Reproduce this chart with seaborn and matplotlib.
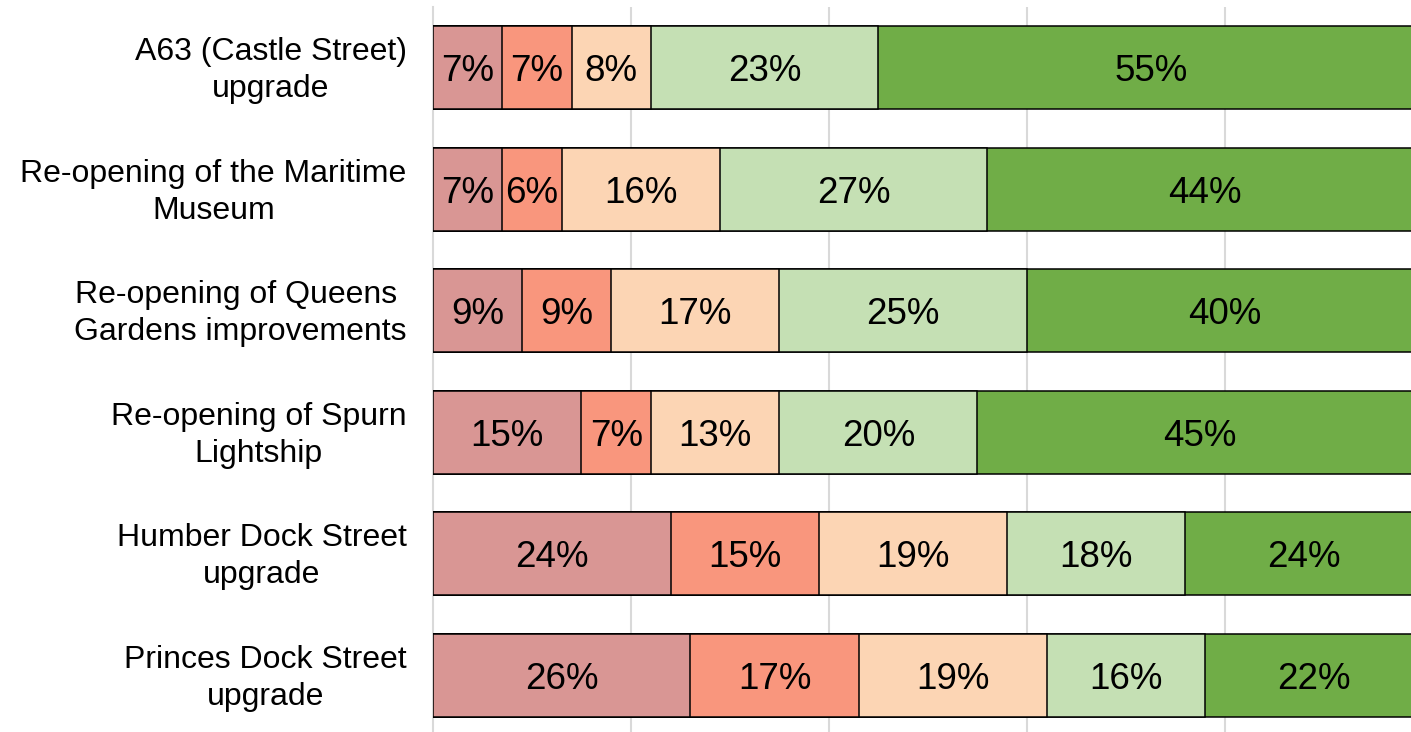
import matplotlib
matplotlib.use("Agg")
import matplotlib.pyplot as plt
import matplotlib.transforms as mtransforms
import numpy as np
import pandas as pd
import seaborn as sns

categories = [
    "A63 (Castle Street)\nupgrade",
    "Re-opening of the Maritime\nMuseum",
    "Re-opening of Queens \nGardens improvements",
    "Re-opening of Spurn\nLightship",
    "Humber Dock Street\nupgrade",
    "Princes Dock Street\nupgrade",
]
seg1 = [7, 7, 9, 15, 24, 26]
seg2 = [7, 6, 9, 7, 15, 17]
seg3 = [8, 16, 17, 13, 19, 19]
seg4 = [23, 27, 25, 20, 18, 16]
seg5 = [55, 44, 40, 45, 24, 22]
segments = [seg1, seg2, seg3, seg4, seg5]
colors = ["#d99694", "#f9967d", "#fcd5b4", "#c5e0b4", "#70ad47"]

sns.set_style("white")
plt.rcParams["font.family"] = ["Liberation Sans", "DejaVu Sans"]

fig = plt.figure(figsize=(14.11, 7.32), dpi=100)
ax = fig.add_axes([433 / 1411, -4 / 732, 978 / 1411, 729 / 732])

vals = np.array(segments, dtype=float)
cum = np.cumsum(vals, axis=0)

# draw cumulative totals from the outside in so the bars stack
for i in range(len(segments) - 1, -1, -1):
    df = pd.DataFrame({"cat": categories, "val": cum[i]})
    sns.barplot(data=df, x="val", y="cat", orient="h", color=colors[i],
                saturation=1, width=0.68, edgecolor="black", linewidth=1.1,
                ax=ax, zorder=3)

for i in range(len(segments)):
    starts = cum[i] - vals[i]
    for j, v in enumerate(vals[i]):
        ax.text(starts[j] + v / 2, j, f"{v:.0f}%", ha="center",
                va="center_baseline", fontsize=26.5, color="black", zorder=5)

ax.set_xlim(0, 98.8)
ax.set_ylim(5.5, -0.5)
ax.set_xlabel("")
ax.set_ylabel("")
ax.set_xticks([20, 40, 60, 80])
ax.set_xticklabels([])
ax.tick_params(axis="x", length=0)
ax.grid(axis="x", color="#d9d9d9", linewidth=1.5, zorder=0)
ax.set_axisbelow(True)

ax.set_yticks(range(len(categories)))
ax.set_yticklabels(categories, fontsize=23, linespacing=1.3,
                   multialignment="center", color="black")
ax.tick_params(axis="y", which="major", length=0, pad=19)
shift = mtransforms.ScaledTranslation(0, 4 / 100, fig.dpi_scale_trans)
for lab in ax.get_yticklabels():
    lab.set_transform(lab.get_transform() + shift)
ax.set_yticks(np.arange(-0.5, len(categories), 1.0), minor=True)
ax.tick_params(axis="y", which="minor", length=6, width=1.5, color="#d9d9d9")

for s in ["top", "right", "bottom"]:
    ax.spines[s].set_visible(False)
ax.spines["left"].set_color("#d9d9d9")
ax.spines["left"].set_linewidth(1.5)

fig.savefig("out.png", dpi=100)
